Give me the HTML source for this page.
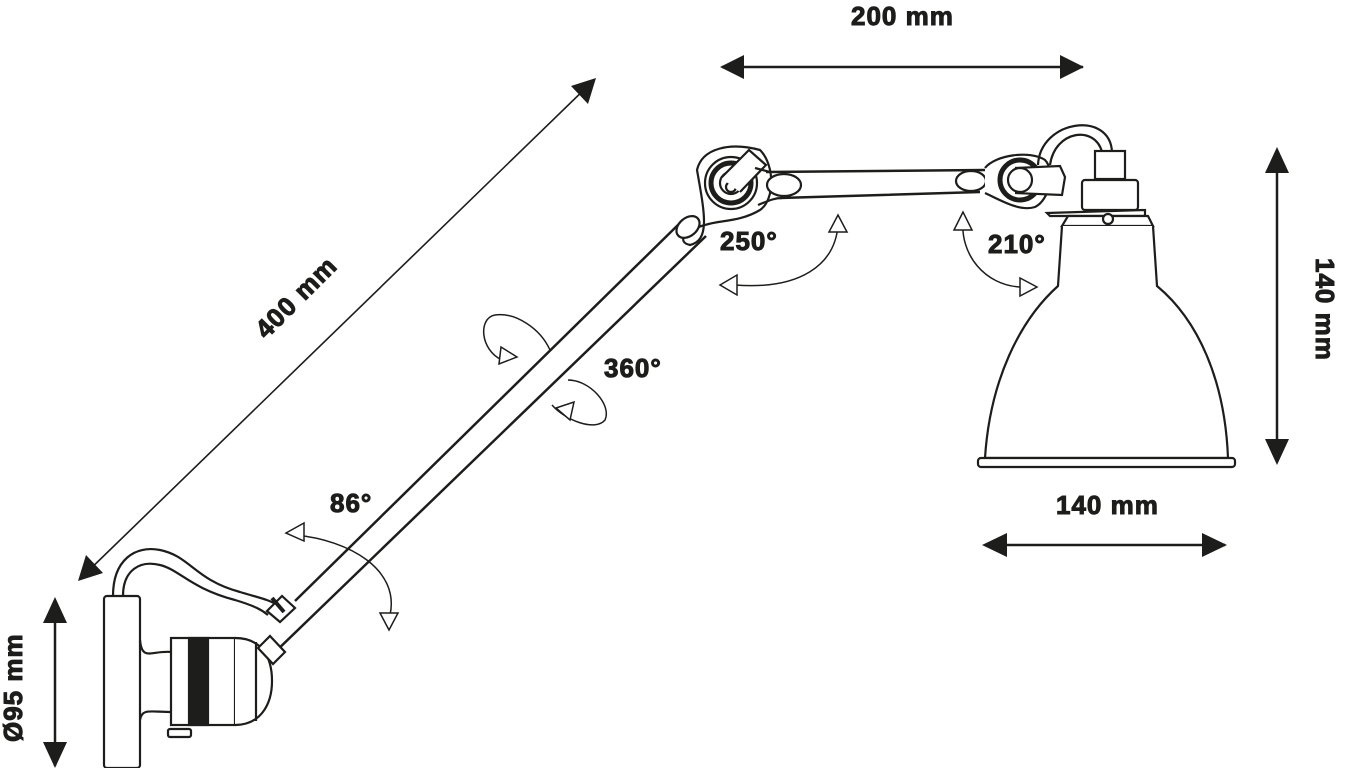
<!DOCTYPE html>
<html><head><meta charset="utf-8"><style>
html,body{margin:0;padding:0;background:#fff;}
svg{display:block}
text{font-family:"Liberation Sans",sans-serif;font-weight:bold;fill:#1d1d1b;font-size:26px;letter-spacing:1px}
</style></head><body>
<svg width="1366" height="768" viewBox="0 0 1366 768" xmlns="http://www.w3.org/2000/svg">
<g stroke="#1d1d1b" fill="none" stroke-linecap="butt">
<g stroke-width="2.5">
<line x1="722" y1="67" x2="1083" y2="67"/>
<path d="M720,67 l24,-12 v24z M1084,67 l-24,-12 v24z" fill="#1d1d1b" stroke="none"/>
<line x1="1277" y1="150" x2="1277" y2="462"/>
<path d="M1277,147 l-12,26 h24z M1277,465 l-12,-26 h24z" fill="#1d1d1b" stroke="none"/>
<line x1="985" y1="545" x2="1225" y2="545"/>
<path d="M982,545 l25,-12 v24z M1227,545 l-25,-12 v24z" fill="#1d1d1b" stroke="none"/>
<line x1="55" y1="600" x2="55" y2="766"/>
<path d="M55,597 l-12,26 h24z M55,768 l-12,-26 h24z" fill="#1d1d1b" stroke="none"/>
</g>
<line x1="82" y1="577" x2="592" y2="82" stroke-width="1.6"/>
<path d="M78,581 l8,-26 l17,18z M596,78 l-8,26 l-17,-18z" fill="#1d1d1b" stroke="none"/>

<g stroke-width="2.2">
<rect x="104" y="596" width="36" height="172" rx="3"/>
<path d="M113,596 C113,560 135,545 160,550 C190,556 195,580 240,592 C260,598 270,600 277,605"/>
<path d="M123,596 C123,570 140,560 160,565 C180,570 190,588 235,600 C255,606 262,610 268,615"/>
<path d="M140,640 C142,662 152,650 172,652 M140,720 C142,708 150,712 172,712"/>
<rect x="171" y="638" width="64" height="87" fill="#fff"/>
<rect x="189" y="638" width="19" height="87" fill="#1d1d1b"/>
<path d="M235,638 C260,638 272,655 272,681 C272,705 260,725 235,725" fill="#fff"/>
<line x1="256" y1="642" x2="256" y2="721"/>
<rect x="168" y="729" width="23" height="8" rx="2"/>
<path d="M272,655 L706,236" stroke-width="2.5"/>
<path d="M295,601 L681,222" stroke-width="2.5"/>
<path d="M258,648 L270,636 L285,652 L273,664z" fill="#fff"/>
<path d="M267,611 L282,596 L295,608 L280,622z" fill="#fff"/>
<line x1="272" y1="598" x2="284" y2="612" stroke-width="4"/>
<path d="M697,170 C702,148 730,142 760,150 C775,165 775,200 760,210 C740,222 720,220 705,225 C685,230 676,242 690,245 C710,240 705,215 697,170z" fill="#fff"/>
<ellipse cx="688" cy="227" rx="13" ry="9" transform="rotate(-40 688 227)" fill="#fff"/>
<circle cx="731" cy="183" r="26" fill="#fff"/>
<circle cx="731" cy="183" r="20" stroke-width="5"/>
<circle cx="731" cy="183" r="11"/>
<circle cx="731" cy="187" r="5"/>
<path d="M721,178 L749,150 L766,165 L740,192" fill="#fff"/>
<path d="M766,172 L985,170 M780,198 L980,192" stroke-width="2.5"/>
<path d="M758,205 C770,200 775,198 782,198 M755,168 L770,172"/>
<ellipse cx="784" cy="185" rx="17" ry="11" fill="#fff"/>
<ellipse cx="971" cy="181" rx="15" ry="10" fill="#fff"/>
<path d="M985,168 C995,155 1030,150 1045,160 C1055,170 1050,200 1035,207 C1020,212 1000,200 985,193" fill="#fff"/>
<circle cx="1020" cy="180" r="20" stroke-width="5" fill="#fff"/>
<path d="M1015,168 L1060,166 L1065,177 L1062,195 L1015,193" fill="#fff"/>
<circle cx="1020" cy="180" r="12" fill="#fff"/>
<path d="M1038,165 C1040,120 1110,110 1112,152 M1050,165 C1055,130 1095,125 1102,152"/>
<rect x="1095" y="151" width="30" height="28" fill="#fff"/>
<rect x="1082" y="180" width="56" height="30" rx="3" fill="#fff"/>
<path d="M1047,213 L1145,210 L1145,216 L1050,216z" fill="#fff"/>
<path d="M1068,216 L1148,216 L1153,226 L1062,226z" fill="#fff"/>
<circle cx="1108" cy="219" r="5" fill="#fff"/>
<path d="M1062,226 L1058,286 C1020,320 990,380 985,458 L1228,458 C1225,380 1198,320 1157,286 L1153,226" fill="#fff"/>
<rect x="978" y="458" width="257" height="9" rx="3" fill="#fff"/>
</g>
<g stroke="#1d1d1b" stroke-width="1.5" fill="#fff">
<path d="M295,535 C350,540 400,570 390,615" fill="none"/>
<path d="M286,533 l18,-10 v18z M389,630 l-9,-17 h18z"/>
<path d="M838,225 C835,265 800,290 735,285" fill="none"/>
<path d="M838,215 l-9,17 h18z M720,285 l17,-10 v20z"/>
<path d="M963,220 C960,255 985,285 1020,287" fill="none"/>
<path d="M963,212 l-9,18 h18z M1037,287 l-17,-9 v18z"/>
<path d="M502,360 C480,350 478,318 495,315 C515,312 540,328 550,350" fill="none"/>
<path d="M517,357 l-16,-10 l-2,17z"/>
<path d="M568,380 C590,380 612,405 605,420 C595,432 565,420 552,405" fill="none"/>
<path d="M556,408 l18,-6 l-4,18z"/>
</g>
<text x="851" y="25">200 mm</text>
<text x="1056" y="514">140 mm</text>
<text x="720" y="250">250°</text>
<text x="988" y="253">210°</text>
<text x="604" y="377">360°</text>
<text x="330" y="512">86°</text>
<text transform="translate(266,340) rotate(-45)">400 mm</text>
<text transform="translate(1316,258) rotate(90)">140 mm</text>
<text transform="translate(22,742) rotate(-90)">Ø95 mm</text>
</svg>
</body></html>
